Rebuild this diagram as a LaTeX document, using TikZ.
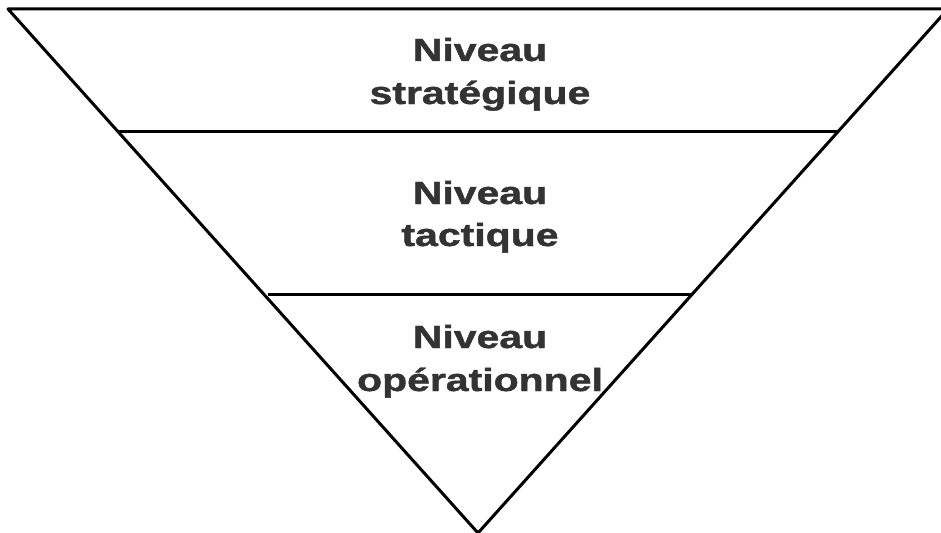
\documentclass[tikz,border=0pt]{standalone}
\usepackage{fontspec}
\setmainfont{Liberation Sans}
\newfontfamily\lblfont[FakeBold=1.2]{Liberation Sans Bold}
\definecolor{txtgray}{HTML}{333333}
\newcommand{\stretchtxt}[1]{\scalebox{1.28}[1]{#1}}
\begin{document}
\begin{tikzpicture}[x=1pt,y=-1pt,
  edge/.style={line width=3pt,black,line join=round,line cap=round},
  sep/.style={line width=3pt,black},
  lbl/.style={anchor=base,inner sep=0pt,text=txtgray,font=\lblfont\fontsize{32}{43}\selectfont}]
\useasboundingbox (0,0) rectangle (941,532);
\begin{scope}
\clip (0,0) rectangle (941,532);
\coordinate (tl) at (8,9);
\coordinate (tr) at (948,9);
\coordinate (ap) at (478,533);
\draw[edge] (tr) -- (tl) -- (ap) -- (tr);
\coordinate (l1) at (117,131);
\coordinate (r1) at (839,131);
\coordinate (l2) at (268,294);
\coordinate (r2) at (693,294);
\draw[sep] (l1) -- (r1);
\draw[sep] (l2) -- (r2);
\end{scope}
\node[lbl] (s1) at (480,61) {\stretchtxt{Niveau}};
\node[lbl] (s2) at (480,104) {\stretchtxt{stratégique}};
\node[lbl] (t1) at (480,204) {\stretchtxt{Niveau}};
\node[lbl] (t2) at (480,246) {\stretchtxt{tactique}};
\node[lbl] (o1) at (480,348) {\stretchtxt{Niveau}};
\node[lbl] (o2) at (480,391) {\stretchtxt{opérationnel}};
\end{tikzpicture}
\end{document}
